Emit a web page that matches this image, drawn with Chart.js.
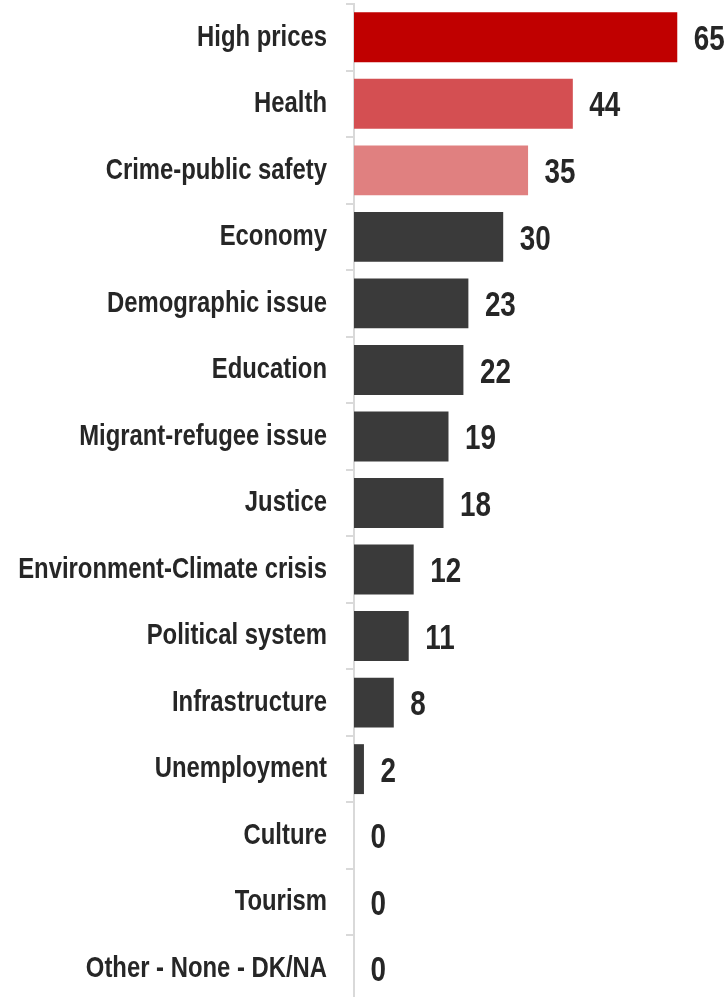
<!DOCTYPE html>
<html>
<head>
<meta charset="utf-8">
<script src="https://cdn.jsdelivr.net/npm/chart.js@4"></script>
<style>
  html, body { margin: 0; padding: 0; background: #ffffff; overflow: hidden; }
  #contenedor { position: relative; width: 727px; height: 1002px; }
</style>
</head>
<body>
<div id="contenedor"><canvas id="miGrafico"></canvas></div>
<script>
// Categorías (de arriba hacia abajo)
let categorias = ['High prices', 'Health', 'Crime-public safety', 'Economy', 'Demographic issue',
  'Education', 'Migrant-refugee issue', 'Justice', 'Environment-Climate crisis', 'Political system',
  'Infrastructure', 'Unemployment', 'Culture', 'Tourism', 'Other - None - DK/NA'];

// Valores de cada categoría (%)
let valores = [65, 44, 35, 30, 23, 22, 19, 18, 12, 11, 8, 2, 0, 0, 0];

// Colores: los tres primeros en rojo, el resto gris oscuro
let colores = ['#c00000', '#d44f52', '#e08080'];
let colorResto = '#3a3a3a';

let fuente = "'Liberation Sans', Arial, sans-serif";
let estrechar = 0.795; // simula una fuente "narrow" comprimiendo el texto
let colorTexto = '#262626';
let colorEje = '#d9d9d9';

// Escribe un texto comprimido horizontalmente
function textoEstrecho(c, texto, x, y) {
  c.save();
  c.translate(x, y);
  c.scale(estrechar, 1);
  c.fillText(texto, 0, 0);
  c.restore();
}

// Plugin: nombres de categoría a la izquierda y valor al final de cada barra
let etiquetas = {
  id: 'etiquetas',
  afterDatasetsDraw(chart) {
    let c = chart.ctx;
    let escalaY = chart.scales.y;
    let meta = chart.getDatasetMeta(0);
    c.save();
    c.fillStyle = colorTexto;
    c.textBaseline = 'middle';

    // nombres de las categorías
    c.font = 'bold 30px ' + fuente;
    c.textAlign = 'right';
    categorias.forEach((nombre, i) => {
      textoEstrecho(c, nombre, escalaY.right - 27, escalaY.getPixelForTick(i));
    });

    // valores
    c.font = 'bold 35px ' + fuente;
    c.textAlign = 'left';
    meta.data.forEach((barra, i) => {
      textoEstrecho(c, String(valores[i]), barra.x + 16.5, barra.y + 3);
    });
    c.restore();
  }
};

let ctx = document.getElementById('miGrafico').getContext('2d');

new Chart(ctx, {
  type: 'bar',
  data: {
    labels: categorias,
    datasets: [{
      data: valores,
      backgroundColor: valores.map((v, i) => colores[i] || colorResto),
      borderWidth: 0,
      categoryPercentage: 1,
      barPercentage: 0.75
    }]
  },
  options: {
    indexAxis: 'y',
    responsive: true,
    maintainAspectRatio: false,
    animation: false,
    layout: { padding: { top: 4, right: 0, bottom: 0, left: 0 } },
    plugins: {
      legend: { display: false },
      tooltip: { enabled: false }
    },
    scales: {
      x: {
        display: false,
        min: 0,
        max: 75
      },
      y: {
        afterFit(scale) { scale.width = 354; }, // ancho fijo del eje de categorías
        grid: {
          drawOnChartArea: false,
          drawTicks: true,
          tickLength: 8,
          color: colorEje,
          lineWidth: 2
        },
        border: { color: colorEje, width: 2 },
        ticks: { display: false }
      }
    }
  },
  plugins: [etiquetas]
});
</script>
</body>
</html>
